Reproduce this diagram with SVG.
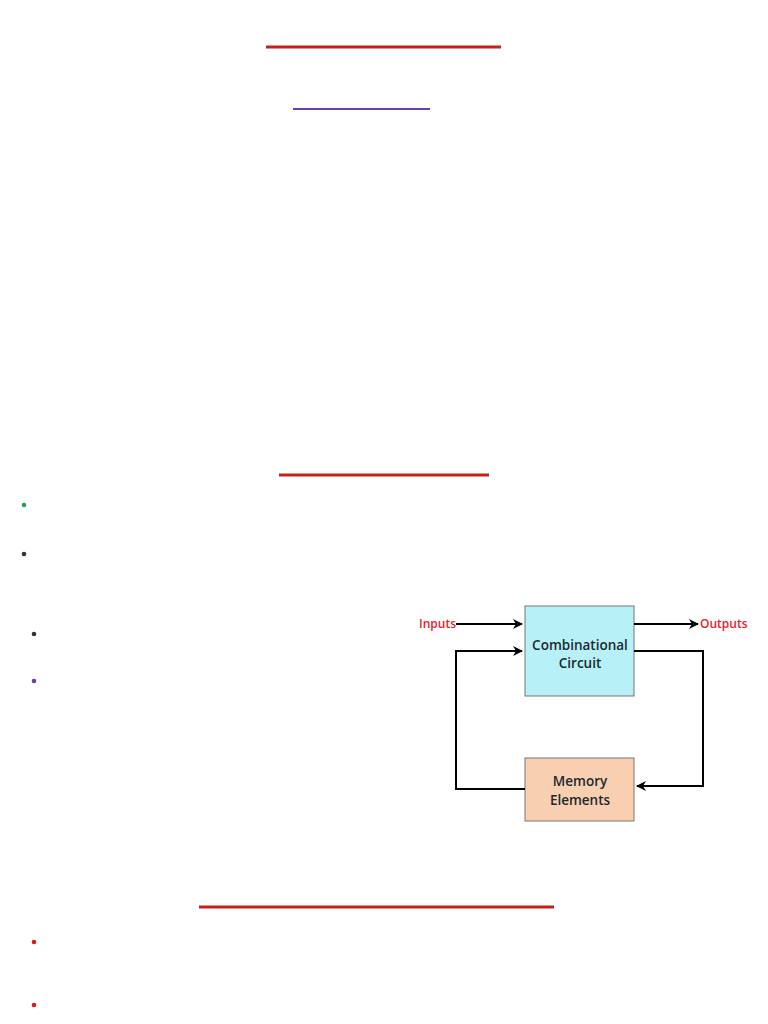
<svg xmlns="http://www.w3.org/2000/svg" width="768" height="1024" viewBox="0 0 768 1024">
<defs>
<style>
.t{font-family:"Open Sans","Liberation Sans",sans-serif;font-weight:600;}
.lbl{fill:#e8202a;font-size:12px;}
.box{font-size:13.5px;fill:#1a2a30;text-anchor:middle;}
.w{stroke:#000;stroke-width:2;fill:none;}
</style>
<marker id="ah" viewBox="0 0 10 10" refX="9" refY="5" markerWidth="5" markerHeight="5" orient="auto" markerUnits="strokeWidth"><path d="M0,0 L10,5 L0,10 L3,5 z" fill="#000"/></marker>
</defs>
<rect width="768" height="1024" fill="#fff"/>
<g id="rules">
<line x1="266" y1="47" x2="501" y2="47" stroke="#c81e1e" stroke-width="3"/>
<line x1="293" y1="109" x2="430" y2="109" stroke="#6a3fb0" stroke-width="2"/>
<line x1="279" y1="475" x2="489" y2="475" stroke="#c81e1e" stroke-width="3"/>
<line x1="199" y1="907" x2="554" y2="907" stroke="#c81e1e" stroke-width="3"/>
</g>
<g id="bullets">
<circle cx="24" cy="505" r="2.3" fill="#22a04a"/>
<circle cx="24" cy="554" r="2.3" fill="#333"/>
<circle cx="34" cy="634" r="2.3" fill="#333"/>
<circle cx="34" cy="681" r="2.3" fill="#6a3fb0"/>
<circle cx="34" cy="942" r="2.3" fill="#e01818"/>
<circle cx="34" cy="1005" r="2.3" fill="#e01818"/>
</g>
<g id="comb">
<rect x="525" y="606" width="109" height="90" fill="#b8f0f8" stroke="#777" stroke-width="1"/>
<text class="t box" x="580" y="650">Combinational</text>
<text class="t box" x="580" y="668">Circuit</text>
</g>
<g id="mem">
<rect x="525" y="758" width="109" height="63" fill="#f8cfb0" stroke="#777" stroke-width="1"/>
<text class="t box" x="580" y="786">Memory</text>
<text class="t box" x="580" y="805">Elements</text>
</g>
<g id="inputs"><text class="t lbl" x="419" y="628">Inputs</text></g>
<g id="outputs"><text class="t lbl" x="700" y="628">Outputs</text></g>
<g id="connectors">
<line class="w" x1="456" y1="624" x2="522" y2="624" marker-end="url(#ah)"/>
<line class="w" x1="634" y1="624" x2="698" y2="624" marker-end="url(#ah)"/>
<polyline class="w" points="634,651 703,651 703,786 637,786" marker-end="url(#ah)"/>
<polyline class="w" points="525,789 456,789 456,651 522,651" marker-end="url(#ah)"/>
</g>
</svg>
